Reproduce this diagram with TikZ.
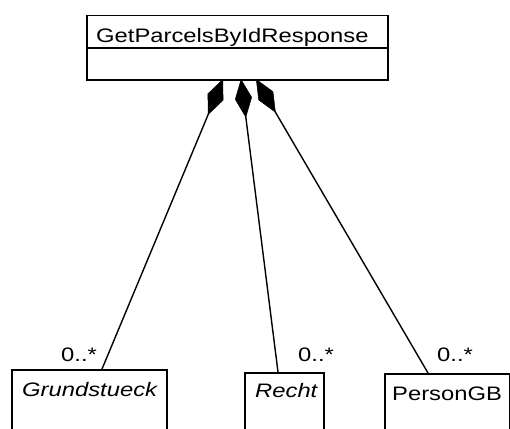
\documentclass[tikz,border=0pt]{standalone}
\usepackage{fontspec}
\setmainfont{Liberation Sans}
\newfontfamily\umlfont[FakeStretch=1.22]{Liberation Sans}
\usetikzlibrary{arrows.meta}
\tikzset{
  umlbox/.style={draw, line width=1.5pt, rectangle, inner sep=0pt, anchor=north west},
  umltext/.style={inner sep=0pt, anchor=base west, font=\umlfont\fontsize{19.5}{22}\selectfont},
  comp/.style={line width=1.4pt, {Diamond[length=39pt,width=17pt,line width=0.5pt]}-},
}
\begin{document}
\begin{tikzpicture}[x=1pt,y=-1pt]
\useasboundingbox (0,0) rectangle (510,428);
\clip (0,0) rectangle (510,428);
\fill[white] (0,0) rectangle (510,428);
% top class
\node[umlbox, minimum width=301, minimum height=64] (top) at (86,15) {};
\draw[line width=1.5pt] (86,48) -- (387,48);
\node[umltext] (toplbl) at (96,42) {GetParcelsByIdResponse};
% bottom classes
\node[umlbox, minimum width=155, minimum height=80] (grund) at (11,369) {};
\node[umltext] (grundlbl) at (22,396.5) {\itshape Grundstueck};
\node[umlbox, minimum width=79, minimum height=80] (recht) at (244,372) {};
\node[umltext] (rechtlbl) at (255,397) {\itshape Recht};
\node[umlbox, minimum width=125, minimum height=80] (person) at (384,373) {};
\node[umltext] (personlbl) at (392,400.5) {PersonGB};
% connection points
\coordinate (a1) at (223,79);
\coordinate (a2) at (241,79);
\coordinate (a3) at (256,79);
\coordinate (b1) at (102,369);
\coordinate (b2) at (278,372);
\coordinate (b3) at (428,373);
\draw[comp] (a1) -- (b1);
\draw[comp] (a2) -- (b2);
\draw[comp] (a3) -- (b3);
% multiplicities
\node[umltext] (m1) at (61,361) {0..*};
\node[umltext] (m2) at (298,361) {0..*};
\node[umltext] (m3) at (437,361.5) {0..*};
\end{tikzpicture}
\end{document}
